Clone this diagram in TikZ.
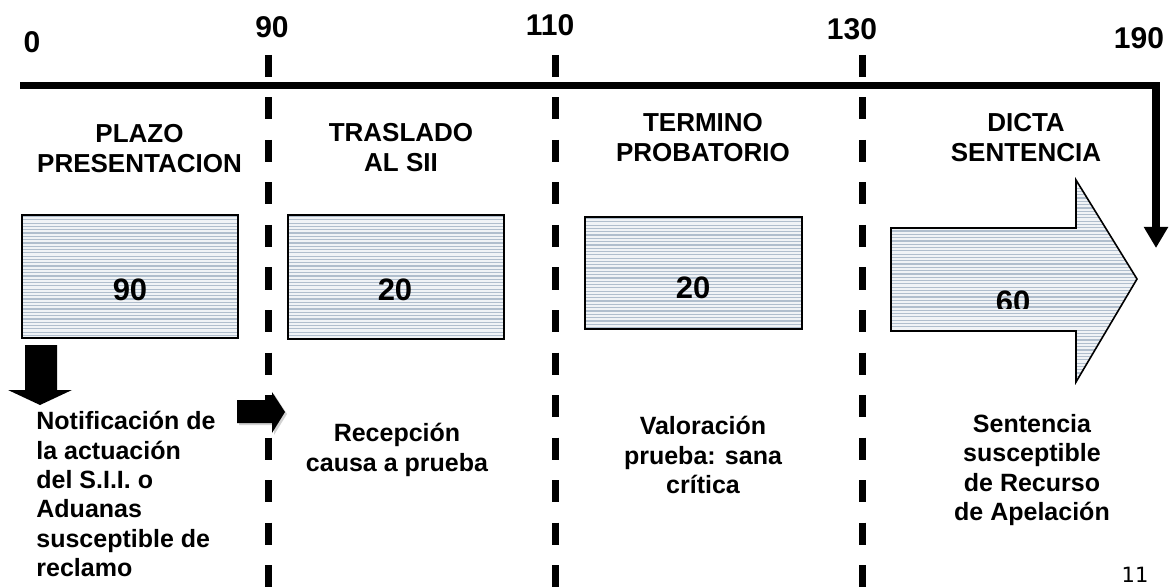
\documentclass[tikz,border=0pt]{standalone}
\usepackage{fontspec}
\setmainfont{Liberation Sans}
\newfontfamily\pagefont{DejaVu Sans}
\usetikzlibrary{arrows.meta}
\definecolor{stripeline}{RGB}{176,190,205}
\definecolor{stripebg}{RGB}{240,243,246}
\tikzset{
  striped/.style={draw=black, line width=0.8pt, fill=stripebg,
    path picture={\foreach \k in {0,...,70}
      \draw[stripeline, line width=0.6pt]
        ([yshift={-1.65pt*\k-0.8pt}]path picture bounding box.north west) --
        ([yshift={-1.65pt*\k-0.8pt}]path picture bounding box.north east);}},
  tick/.style={font=\bfseries\fontsize{15}{17}\selectfont},
  phase/.style={font=\bfseries\fontsize{13}{15}\selectfont, align=center},
  days/.style={font=\bfseries\fontsize{15.5}{17}\selectfont},
  note/.style={font=\bfseries\fontsize{12.5}{14.7}\selectfont, align=center,
    anchor=north, inner sep=0pt},
  cut/.style={line width=3.5pt, dash pattern=on 11pt off 10.25pt}
}
\begin{document}
\begin{tikzpicture}[x=0.5pt,y=-0.5pt]
\useasboundingbox (0,0) rectangle (1172,588);
% eje de tiempo
\draw[line width=3.75pt, -{Triangle[width=11.5pt,length=10.5pt]}]
  (20,85.5) -- (1156,85.5) -- (1156,248);
\node[tick] (t0) at (32,42) {0};
\node[tick] (t90) at (272,27) {90};
\node[tick] (t110) at (550,25) {110};
\node[tick] (t130) at (852,29) {130};
\node[tick] (t190) at (1139,38) {190};
% cortes
\foreach \x in {268,555,862}
  \draw[cut] (\x,55) -- (\x,588);
% etapas
\node[phase] (plazo) at (139.5,149) {PLAZO\\PRESENTACION};
\node[phase] (traslado) at (401,147.5) {TRASLADO\\AL SII};
\node[phase] (termino) at (703,138) {TERMINO\\PROBATORIO};
\node[phase] (dicta) at (1026,138) {DICTA\\SENTENCIA};
% plazos
\draw[striped] (22,215) rectangle (238,338);
\draw[striped] (288,215) rectangle (504,339);
\draw[striped] (585,217) rectangle (802,329);
\draw[striped] (891,228) -- (1076,228) -- (1076,180) -- (1137,279)
  -- (1076,382) -- (1076,331) -- (891,331) -- cycle;
\node[days] (d90) at (130,290) {90};
\node[days] (d20a) at (395,290) {20};
\node[days] (d20b) at (693,288) {20};
\begin{scope}
\clip (891,180) rectangle (1137,308);
\node[days] (d60) at (1013,302) {60};
\end{scope}
% flechas
\fill (25,345) -- (57,345) -- (57,390) -- (72,390) -- (40,405) -- (8,390)
  -- (25,390) -- cycle;
\fill[gray!35] (239,402) -- (274,402) -- (274,394) -- (287,414) -- (274,435)
  -- (274,425) -- (239,425) -- cycle;
\fill (237,400) -- (272,400) -- (272,392) -- (285,412) -- (272,433)
  -- (272,423) -- (237,423) -- cycle;
% textos
\node[note, anchor=north west, align=left] (notif) at (36,411)
  {Notificación de\\la actuación\\del S.I.I. o\\Aduanas\\susceptible de\\reclamo};
\node[note] (recep) at (397,423) {Recepción\\causa a prueba};
\node[note] (valor) at (703,416) {Valoración\\prueba: sana\\crítica};
\node[note] (sent) at (1032,414) {Sentencia\\susceptible\\de Recurso\\de Apelación};
\node[font=\pagefont\fontsize{10.5}{12}\selectfont] (pag) at (1135,575) {11};
\end{tikzpicture}
\end{document}
